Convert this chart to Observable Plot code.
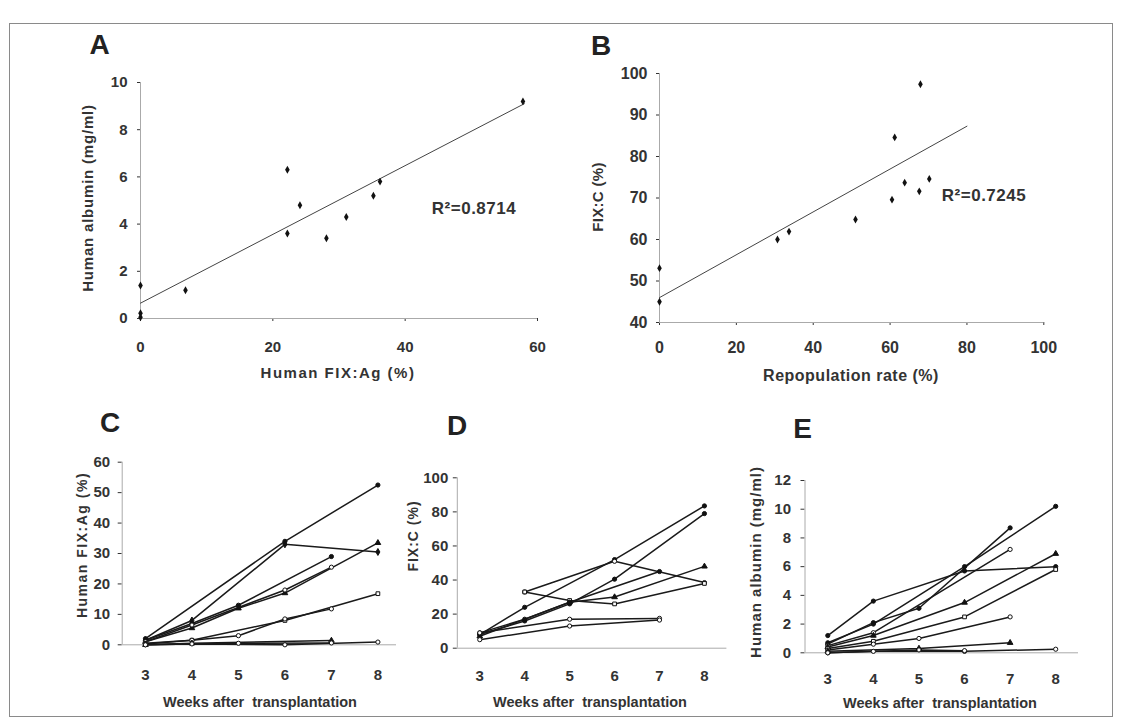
<!DOCTYPE html>
<html>
<head>
<meta charset="utf-8">
<script src="https://cdn.jsdelivr.net/npm/d3@7"></script>
<script src="https://cdn.jsdelivr.net/npm/@observablehq/plot@0.6"></script>
<style>
  html, body { margin: 0; padding: 0; background: #fff; }
  #root { position: relative; width: 1123px; height: 723px; overflow: hidden; background: #fff; }
  .t { position: absolute; white-space: pre; line-height: 1; color: #333; font-family: 'Liberation Sans', Arial, Helvetica, sans-serif; font-weight: bold; }
</style>
</head>
<body>
<div id="root"></div>
<script>
// ---------------- DATA ----------------
// Panel A: Human albumin vs Human FIX:Ag
const aFix = [0, 0, 0, 6.8, 22.2, 22.2, 24.1, 28.1, 31.1, 35.2, 36.2, 57.8];
const aAlb = [0.05, 0.22, 1.4, 1.2, 6.3, 3.6, 4.8, 3.4, 4.3, 5.2, 5.8, 9.2];
const aTrendX = [0, 58];
const aTrendY = [0.65, 9.1];
const aXTicks = [0, 20, 40, 60];
const aYTicks = [0, 2, 4, 6, 8, 10];
const aR2 = "R\u00B2=0.8714";

// Panel B: FIX:C vs repopulation rate
const bRep = [0, 0, 30.7, 33.7, 51.0, 60.5, 61.2, 63.8, 67.6, 67.9, 70.2];
const bFixC = [53.1, 45.0, 60.0, 61.9, 64.8, 69.6, 84.6, 73.7, 71.6, 97.4, 74.6];
const bTrendX = [0, 80];
const bTrendY = [46, 87.3];
const bXTicks = [0, 20, 40, 60, 80, 100];
const bYTicks = [40, 50, 60, 70, 80, 90, 100];
const bR2 = "R\u00B2=0.7245";

// Weeks after transplantation (C, D, E)
const weeks = [3, 4, 5, 6, 7, 8];

// Panel C: Human FIX:Ag (%)
const c1 = [2, null, null, 34, null, 52.5];
const c2 = [1.5, 8, null, 33, null, 30.5];
const c3 = [1.5, 7, 13, null, 29, null];
const c4 = [1, 5.5, 12, 17, null, 33.5];
const c5 = [1, 6.5, null, 18, 25.5, null];
const c6 = [0.5, 1.5, null, 8, null, 16.8];
const c7 = [0.3, 1.5, 3, 8.5, 11.8, null];
const c8 = [0, 0.5, null, null, 1.4, null];
const c9 = [0, 0.3, null, 0, null, 0.9];
const c10 = [0, null, 0.5, null, 0.6, null];
const cYTicks = [0, 10, 20, 30, 40, 50, 60];

// Panel D: FIX:C (%)
const d1 = [8, 24, null, 52, null, 83.5];
const d2 = [null, 33, null, 51, null, 38.5];
const d3 = [8, 16, 26, 40.5, null, 79];
const d4 = [7, null, 27, 30, null, 48];
const d5 = [null, 33, 28, 26, null, 38];
const d6 = [9, 17, 27, null, 45, null];
const d7 = [9, null, 17, null, 17.5, null];
const d8 = [5, null, 13, null, 16.5, null];
const dYTicks = [0, 20, 40, 60, 80, 100];

// Panel E: Human albumin (mg/ml)
const e1 = [1.2, 3.6, null, 5.7, null, 6.0];
const e2 = [0.6, 2.1, 3.1, null, 8.7, null];
const e3 = [0.7, 2.0, null, 6.0, null, 10.2];
const e4 = [0.5, 1.4, null, null, 7.2, null];
const e5 = [0.4, 1.2, null, 3.5, null, 6.9];
const e6 = [0.3, 0.8, null, 2.5, null, 5.8];
const e7 = [0.2, 0.6, 1.0, null, 2.5, null];
const e8 = [0.1, null, 0.3, null, 0.7, null];
const e9 = [0, 0.1, null, 0.1, null, 0.25];
const e10 = [0, null, 0.2, 0.15, null, null];
const eYTicks = [0, 2, 4, 6, 8, 10, 12];

// marker styles per series (kept apart from the values)
const cSym = ["circle", "diamond", "circle", "triangle", "circle", "square", "circle", "triangle", "circle", "circle"];
const cOpen = [false, false, false, false, true, true, true, false, true, true];
const dSym = ["circle", "circle", "circle", "triangle", "square", "circle", "circle", "circle"];
const dOpen = [false, true, false, false, true, false, true, true];
const eSym = ["circle", "circle", "circle", "circle", "triangle", "square", "circle", "triangle", "circle", "circle"];
const eOpen = [false, false, false, true, false, true, true, false, true, true];

// ---------------- HELPERS ----------------
const FONT = "'Liberation Sans', Arial, Helvetica, sans-serif";
const NARROW = "'Liberation Sans Narrow', 'Liberation Sans', Arial, sans-serif";
const root = document.getElementById("root");
const intFmt = d => String(d);

function put(el, left, top) {
  el.style.position = "absolute";
  el.style.left = left + "px";
  el.style.top = top + "px";
  root.appendChild(el);
}
function text(str, cx, cy, size, opts = {}) {
  const d = document.createElement("div");
  d.className = "t";
  d.textContent = str;
  d.style.fontSize = size + "px";
  if (opts.spacing) d.style.letterSpacing = opts.spacing + "px";
  if (opts.family) d.style.fontFamily = opts.family;
  if (opts.color) d.style.color = opts.color;
  d.style.left = cx + "px";
  d.style.top = cy + "px";
  d.style.transform = "translate(-50%,-50%)" + (opts.rotate ? ` rotate(${opts.rotate}deg)` : "");
  root.appendChild(d);
}
function pairs(xs, ys) { return xs.map((x, i) => ({x, y: ys[i]})); }
function seriesRows(list) {
  return list.map(vals => weeks.map((w, j) => ({week: w, v: vals[j]})).filter(r => r.v != null));
}

// frame border
const border = document.createElement("div");
border.style.border = "1.5px solid #8a8a8a";
border.style.width = (1113 - 9) + "px";
border.style.height = (717 - 23) + "px";
border.style.boxSizing = "border-box";
put(border, 9, 23);

// ---------------- PANEL A ----------------
const plotA = Plot.plot({
  width: 500, height: 310,
  marginLeft: 80, marginRight: 23, marginTop: 22, marginBottom: 52,
  x: {domain: [0, 60], ticks: aXTicks, tickFormat: intFmt, tickSize: 3, tickPadding: 20, label: null},
  y: {domain: [0, 10], ticks: aYTicks, tickFormat: intFmt, tickSize: 3, tickPadding: 10, label: null},
  style: {fontFamily: FONT, fontSize: "15px", fontWeight: "bold", color: "#333", background: "transparent"},
  marks: [
    Plot.ruleY([0], {stroke: "#aaa"}),
    Plot.ruleX([0], {stroke: "#aaa"}),
    Plot.line(pairs(aTrendX, aTrendY), {x: "x", y: "y", stroke: "#444", strokeWidth: 1}),
    Plot.dot(pairs(aFix, aAlb), {x: "x", y: "y", symbol: "diamond", fill: "#111", r: 2.4})
  ]
});
put(plotA, 60, 60);

// ---------------- PANEL B ----------------
const plotB = Plot.plot({
  width: 500, height: 320,
  marginLeft: 99, marginRight: 16.7, marginTop: 23, marginBottom: 48,
  x: {domain: [0, 100], ticks: bXTicks, tickFormat: intFmt, tickSize: 3, tickPadding: 16, label: null},
  y: {domain: [40, 100], ticks: bYTicks, tickFormat: intFmt, tickSize: 3, tickPadding: 9, label: null},
  style: {fontFamily: FONT, fontSize: "16px", fontWeight: "bold", color: "#333", background: "transparent"},
  marks: [
    Plot.ruleY([40], {stroke: "#aaa"}),
    Plot.ruleX([0], {stroke: "#aaa"}),
    Plot.line(pairs(bTrendX, bTrendY), {x: "x", y: "y", stroke: "#444", strokeWidth: 1}),
    Plot.dot(pairs(bRep, bFixC), {x: "x", y: "y", symbol: "diamond", fill: "#111", r: 2.4})
  ]
});
put(plotB, 560, 50);

// ---------------- TIME-COURSE PANELS ----------------
function timePlot(series, syms, opens, cfg) {
  const rows = seriesRows(series);
  const marks = [
    Plot.ruleY([cfg.yDomain[0]], {stroke: "#aaa"}),
    Plot.ruleX([cfg.xDomain[0]], {stroke: "#aaa"})
  ];
  rows.forEach(r => marks.push(Plot.line(r, {x: "week", y: "v", stroke: "#1a1a1a", strokeWidth: 1.5})));
  rows.forEach((r, i) => marks.push(Plot.dot(r, {
    x: "week", y: "v", symbol: syms[i], r: 2.1,
    fill: opens[i] ? "white" : "#111", stroke: "#111", strokeWidth: 1
  })));
  return Plot.plot({
    width: cfg.width, height: 280,
    marginLeft: cfg.ml, marginRight: cfg.mr, marginTop: cfg.mt, marginBottom: cfg.mb,
    x: {domain: cfg.xDomain, ticks: weeks, tickFormat: intFmt, tickSize: 0, tickPadding: cfg.xPad, label: null},
    y: {domain: cfg.yDomain, ticks: cfg.yTicks, tickFormat: intFmt, tickSize: 4, tickPadding: cfg.yPad, label: null},
    style: {fontFamily: NARROW, fontSize: "15px", fontWeight: "bold", color: "#333", background: "transparent"},
    marks
  });
}

const plotC = timePlot([c1, c2, c3, c4, c5, c6, c7, c8, c9, c10], cSym, cOpen, {
  width: 360, ml: 61.7, mr: 24, mt: 21.7, mb: 75.7,
  xDomain: [2.5, 8.4], yDomain: [0, 60], yTicks: cYTicks, xPad: 25, yPad: 8
});
put(plotC, 60, 440);

const plotD = timePlot([d1, d2, d3, d4, d5, d6, d7, d8], dSym, dOpen, {
  width: 340, ml: 46.8, mr: 23.6, mt: 37.3, mb: 72.3,
  xDomain: [2.5, 8.5], yDomain: [0, 100], yTicks: dYTicks, xPad: 22, yPad: 5
});
put(plotD, 410, 440);

const plotE = timePlot([e1, e2, e3, e4, e5, e6, e7, e8, e9, e10], eSym, eOpen, {
  width: 370, ml: 64.5, mr: 32, mt: 40, mb: 67.7,
  xDomain: [2.5, 8.5], yDomain: [0, 12], yTicks: eYTicks, xPad: 20.5, yPad: 10
});
put(plotE, 740, 440);

// ---------------- TEXT ----------------
text("A", 99.5, 45, 28, {color: "#222"});
text("B", 601, 46, 28, {color: "#222"});
text("C", 110, 423, 28, {color: "#222"});
text("D", 457, 426, 28, {color: "#222"});
text("E", 802.5, 429, 28, {color: "#222"});

text("Human FIX:Ag (%)", 338, 372, 15, {spacing: 1.5});
text("Human albumin (mg/ml)", 87, 198, 15, {spacing: 0.8, rotate: -90});
text(aR2, 474, 208, 17, {spacing: 0.5});

text("Repopulation rate (%)", 851, 376, 16, {spacing: 0.5});
text("FIX:C (%)", 597, 197, 15, {spacing: 0.3, rotate: -90});
text(bR2, 984, 195, 17, {spacing: 0.5});

text("Human FIX:Ag (%)", 82, 545, 14, {spacing: 1.5, rotate: -90});
text("Weeks after  transplantation", 260, 702, 14.5);
text("FIX:C (%)", 413, 536, 14, {spacing: 1, rotate: -90});
text("Weeks after  transplantation", 590, 702, 14.5);
text("Human albumin (mg/ml)", 755, 562, 15, {spacing: 1, rotate: -90});
text("Weeks after  transplantation", 940, 703, 14.5);
</script>
</body>
</html>
